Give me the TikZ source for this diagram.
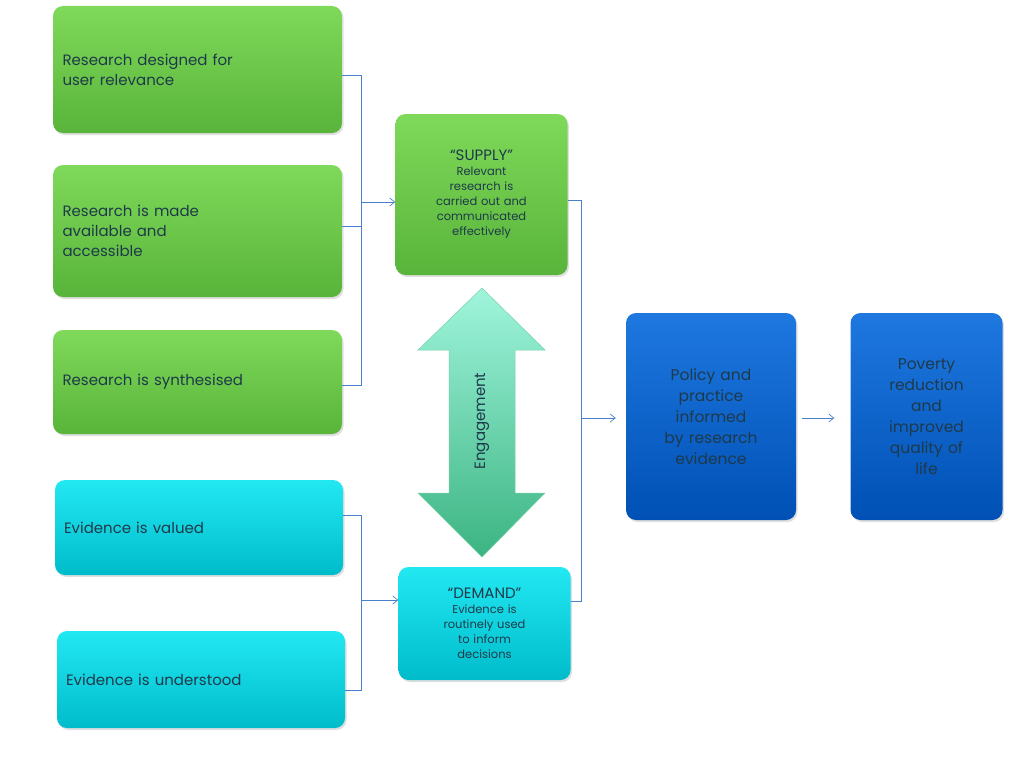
\documentclass[tikz,border=0pt]{standalone}
\usepackage{fontspec}
\setmainfont{Poppins}
\usetikzlibrary{shadows,arrows.meta}
\definecolor{gT}{HTML}{7FD95A}\definecolor{gB}{HTML}{58B43A}
\definecolor{cT}{HTML}{22E8F2}\definecolor{cB}{HTML}{00BCCB}
\definecolor{bT}{HTML}{1E78E0}\definecolor{bB}{HTML}{0050B5}
\definecolor{ln}{HTML}{4A80C8}\definecolor{tx}{HTML}{1E3A4A}
\tikzset{
 box/.style={rectangle,rounded corners=10pt,draw=none,inner sep=6pt,font=\fontsize{15}{20}\selectfont,text=tx,
   drop shadow={shadow xshift=1.5pt,shadow yshift=-2pt,opacity=0.25}},
 green/.style={box,top color=gT,bottom color=gB},
 cyan/.style={box,top color=cT,bottom color=cB},
 blue/.style={box,top color=bT,bottom color=bB,font=\fontsize{15.5}{21}\selectfont},
 con/.style={draw=ln,line width=0.7pt},
 arr/.style={con,-{Straight Barb[length=5pt,width=8pt]}}
}
\begin{document}
\begin{tikzpicture}[x=1pt,y=-1pt]
\useasboundingbox (0,0) rectangle (1024,768);
\node[green,minimum width=289,minimum height=127,text width=270,align=left] (g1) at (197.5,69.5) {Research designed for\\user relevance};
\node[green,minimum width=289,minimum height=132,text width=270,align=left] (g2) at (197.5,231) {Research is made\\available and\\accessible};
\node[green,minimum width=289,minimum height=104,text width=270,align=left] (g3) at (197.5,382) {Research is synthesised};
\node[cyan,minimum width=288,minimum height=95,text width=270,align=left] (c1) at (199,527.5) {Evidence is valued};
\node[cyan,minimum width=288,minimum height=97,text width=270,align=left] (c2) at (201,679.5) {Evidence is understood};
\node[green,minimum width=171,minimum height=161,text width=160,align=center,font=\fontsize{11.5}{15}\selectfont] (sup) at (481.5,194.5) {{\fontsize{15}{18}\selectfont “SUPPLY”}\\Relevant\\research is\\carried out and\\communicated\\effectively};
\node[cyan,minimum width=165,minimum height=113,text width=160,align=center,font=\fontsize{11.5}{15}\selectfont] (dem) at (484.5,623.5) {{\fontsize{15}{18}\selectfont “DEMAND”}\\Evidence is\\routinely used\\to inform\\decisions};
\node[blue,minimum width=170,minimum height=207,text width=150,align=center] (pol) at (711,416.5) {Policy and\\practice\\informed\\by research\\evidence};
\node[blue,minimum width=149,minimum height=207,text width=140,align=center] (pov) at (926.5,416.5) {Poverty\\reduction\\and\\improved\\quality of\\life};
% engagement arrow
\shade[top color={rgb,255:red,160;green,245;blue,220},bottom color={rgb,255:red,60;green,180;blue,130},draw={rgb,255:red,120;green,210;blue,170},line width=0.5pt]
 (482,288) -- (545,350) -- (515,350) -- (515,493) -- (545,493) -- (482,557) -- (418,493) -- (449,493) -- (449,350) -- (418,350) -- cycle;
\node[rotate=90,font=\fontsize{15}{18}\selectfont,text=tx] (eng) at (482,421) {Engagement};
% connectors
\coordinate (b1) at (361,75);\coordinate (b2) at (361,385);\coordinate (b3) at (361,202);
\draw[con] (g1.east|-b1) -- (b1) -- (b2) -- (g3.east|-b2);
\draw[con] (g2.east|-0,226) -- (361,226);
\draw[arr] (b3) -- (sup.west|-b3);
\coordinate (d1) at (361,515);\coordinate (d2) at (361,690);\coordinate (d3) at (361,600);
\draw[con] (c1.east|-d1) -- (d1) -- (d2) -- (c2.east|-d2);
\draw[arr] (d3) -- (dem.west|-d3);
\coordinate (r1) at (581,200);\coordinate (r2) at (581,601);\coordinate (r3) at (581,418);
\draw[con] (sup.east|-r1) -- (r1) -- (r2) -- (dem.east|-r2);
\draw[arr] (r3) -- ([xshift=-10pt]pol.west|-r3);
\draw[arr] ([xshift=6pt]pol.east|-r3) -- ([xshift=-16pt]pov.west|-r3);
\end{tikzpicture}
\end{document}
